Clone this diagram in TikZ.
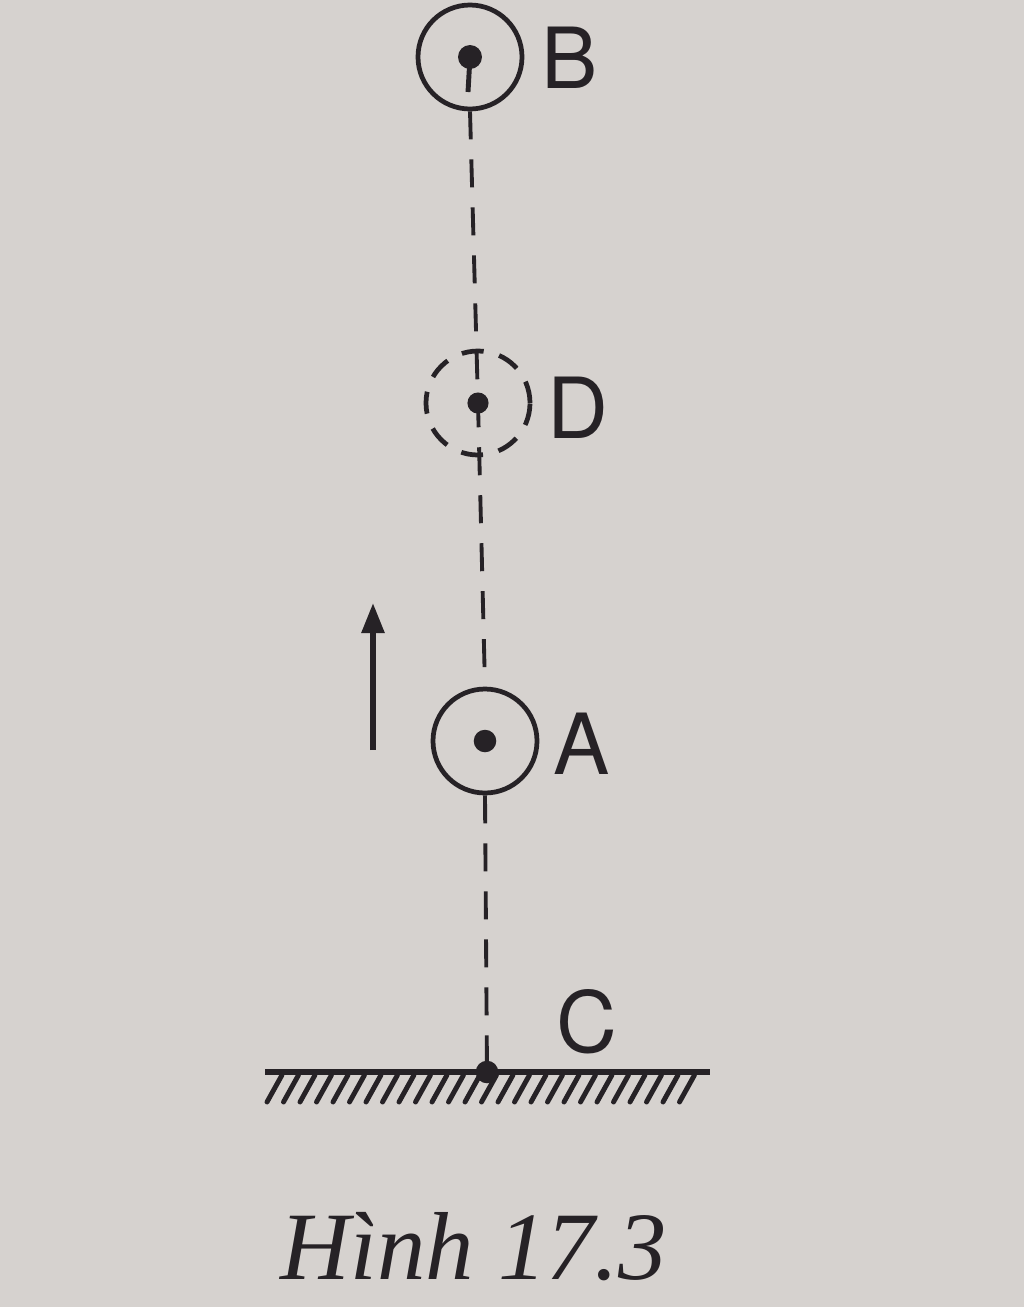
\documentclass[tikz,border=0pt]{standalone}
\usepackage{fontspec}
\setmainfont{Liberation Serif}
\newfontfamily\labelfont{TeX Gyre Heros}
\usetikzlibrary{arrows.meta}
\definecolor{paper}{RGB}{214,210,207}
\definecolor{ink}{RGB}{38,34,38}
\tikzset{
  ball/.style = {circle, draw = ink, line width = 1.35pt, minimum size = 1.04cm, inner sep = 0pt},
  ghost/.style = {ball, dash pattern = on 0.22cm off 0.16cm},
  guide/.style = {draw = ink, line width = 1.1pt, dash pattern = on 0.28cm off 0.2cm},
  lbl/.style = {text = ink, font = \labelfont\fontsize{24}{28}\selectfont, inner sep = 0pt}
}
\begin{document}
\begin{tikzpicture}

      \fill[paper] (0, 0) rectangle (10.24, -13.07);
      \useasboundingbox (0, 0) rectangle (10.24, -13.07);

      \node[ball] (B) at (4.70, -0.57) {};
      \node[ghost] (D) at (4.78, -4.03) {};
      \node[ball] (A) at (4.85, -7.41) {};
      \coordinate (C) at (4.87, -10.72);
      \coordinate (Bs) at (4.68, -0.92);

      \draw[guide] (B.south) -- (D.center) -- (A.north);
      \draw[guide] (A.south) -- (C);

      \draw[fill = ink, draw = ink] (B.center) circle (3.2pt);
      \draw[draw = ink, line width = 1.4pt] (B.center) -- (Bs);
      \draw[fill = ink, draw = ink] (D.center) circle (2.8pt);
      \draw[fill = ink, draw = ink] (A.center) circle (3pt);
      \draw[fill = ink, draw = ink] (C) circle (3pt);

      % ground with hatching
      \coordinate (g1) at (2.65, -10.72);
      \coordinate (g2) at (7.10, -10.72);
      \draw[draw = ink, line width = 1.7pt] (g1) -- (g2);
      \foreach \x in {2.82, 2.985, ..., 7.08}
        \draw[draw = ink, line width = 1.4pt, line cap = round] (\x, -10.75) -- (\x - 0.15, -11.02);

      % direction of motion
      \coordinate (t1) at (3.73, -7.50);
      \coordinate (t2) at (3.73, -6.03);
      \draw[draw = ink, line width = 1.6pt, -{Triangle[length = 0.3cm, width = 0.22cm]}] (t1) -- (t2);

      \node[lbl] (lB) at (5.70, -0.58) {B};
      \node[lbl] (lD) at (5.78, -4.08) {D};
      \node[lbl] (lA) at (5.82, -7.44) {A};
      \node[lbl] (lC) at (5.87, -10.22) {C};

      \node[text = ink, font = \itshape\fontsize{27.5}{32}\selectfont] (cap) at (4.74, -12.47) {Hình 17.3};

    \end{tikzpicture}
\end{document}
